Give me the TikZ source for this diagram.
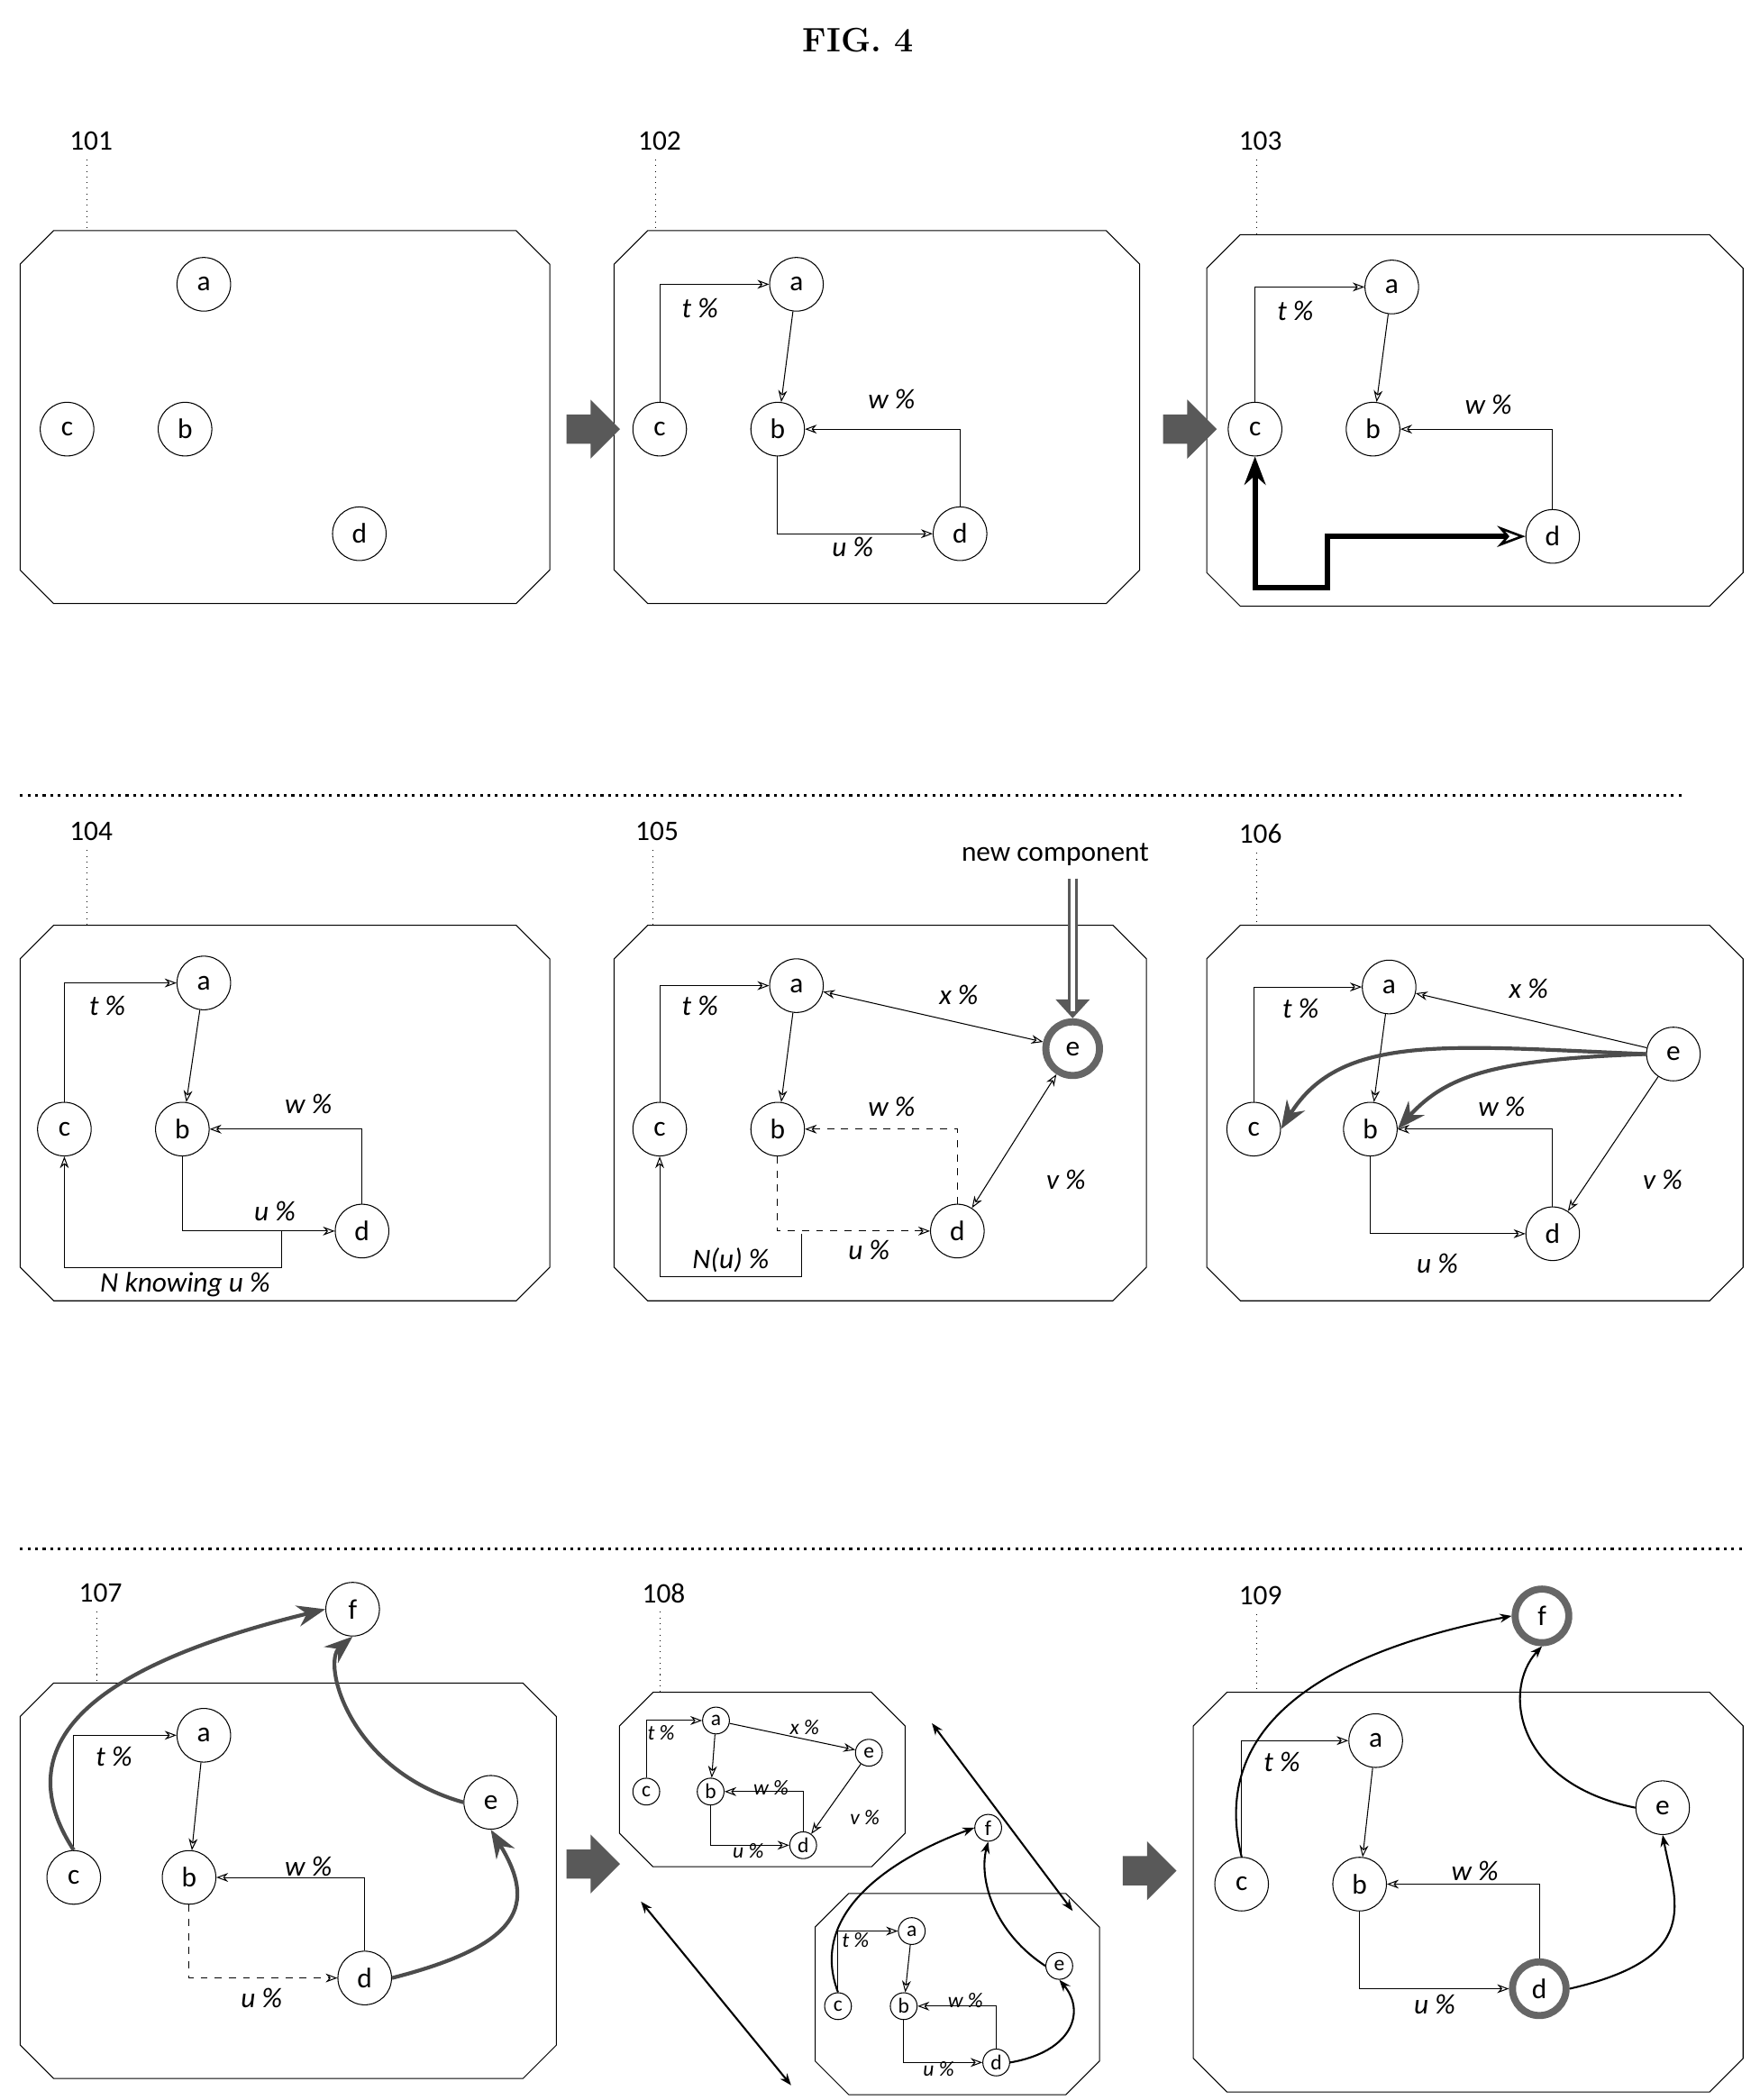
\documentclass[tikz,border=0pt]{standalone}
\usepackage{fontspec}
\setsansfont{Carlito}
\usetikzlibrary{arrows.meta,shapes.arrows,shapes.misc}
\begin{document}
\begin{tikzpicture}[x=0.02cm,y=-0.02cm,
 n/.style={circle,draw,thin,minimum size=40*0.02cm,inner sep=0,font=\sffamily\large},
 sn/.style={circle,draw,thin,minimum size=20*0.02cm,inner sep=0,font=\sffamily\small},
 ring/.style={n,line width=3pt,draw=gray!80!black},
 sring/.style={sn,line width=1.5pt},
 e/.style={thin,-{Stealth[length=5pt,open]}},
 de/.style={thin,{Stealth[length=5pt,open]}-{Stealth[length=5pt,open]}},
 th/.style={line width=1.6pt,draw=gray!60!black,-{Stealth[length=12pt,width=9pt]}},
 lb/.style={font=\sffamily\itshape\large},
 slb/.style={font=\sffamily\itshape\small},
 num/.style={font=\sffamily\large},
 big/.style={single arrow,fill=gray!70!black,minimum width=44*0.02cm,minimum height=40*0.02cm,single arrow head extend=0.12cm,inner sep=0.11cm,single arrow head indent=0pt},
 bx/.style={draw,thin}]
\useasboundingbox (0,0) rectangle (1312,1566);
\newcommand\pbox[4]{\draw[bx] (#1+25,#2)--(#3-25,#2)--(#3,#2+25)--(#3,#4-25)--(#3-25,#4)--(#1+25,#4)--(#1,#4-25)--(#1,#2+25)--cycle;}
\newcommand\plab[4]{\node[num] (#1) at (#2,#3) {#1}; \coordinate (#1t) at (#2-3,#3+14); \coordinate (#1b) at (#2-3,#4); \draw[dotted] (#1t)--(#1b);}
\node[font=\bfseries\Large] (title) at (640,30) {FIG. 4};
% Row 1
\pbox{15}{172}{410}{450}\plab{101}{68}{105}{172}
\node[n] (a1) at (152,212){a}; \node[n] (c1) at (50,320){c};
\node[n] (b1) at (138,320){b}; \node[n] (d1) at (268,398){d};
\pbox{458}{172}{850}{450}\plab{102}{492}{105}{172}
\node[n] (a2) at (594,212){a}; \node[n] (c2) at (492,320){c};
\node[n] (b2) at (580,320){b}; \node[n] (d2) at (716,398){d};
\draw[e] (c2.north)|-(a2.west); \node[lb] at (522,230){t \%};
\draw[e] (a2)--(b2); \draw[e] (d2.north)|-(b2.east); \node[lb] at (665,298){w \%};
\draw[e] (b2.south)|-(d2.west); \node[lb] at (636,408){u \%};
\pbox{900}{175}{1300}{452}\plab{103}{940}{105}{175}
\node[n] (a3) at (1038,214){a}; \node[n] (c3) at (936,320){c};
\node[n] (b3) at (1024,320){b}; \node[n] (d3) at (1158,400){d};
\draw[e] (c3.north)|-(a3.west); \node[lb] at (966,232){t \%};
\draw[e] (a3)--(b3); \draw[e] (d3.north)|-(b3.east); \node[lb] at (1110,302){w \%};
\coordinate (p1) at (990,438); \coordinate (p2) at (990,400);
\draw[line width=2.2pt,{Stealth[length=12pt,width=9pt]}-{Stealth[length=12pt,width=9pt,open,line width=1pt]}] (c3.south)|-(p1)--(p2)--(d3.west);
\node[big] (A1) at (437,320){}; \node[big] (A2) at (882,320){};
\coordinate (s1a) at (15,593); \coordinate (s1b) at (1255,593); \draw[line width=1.2pt,dotted] (s1a)--(s1b);
\coordinate (s2a) at (15,1155); \coordinate (s2b) at (1300,1155); \draw[line width=1.2pt,dotted] (s2a)--(s2b);
% Row 2
\pbox{15}{690}{410}{970}\plab{104}{68}{620}{690}
\node[n] (a4) at (152,733){a}; \node[n] (c4) at (48,842){c};
\node[n] (b4) at (136,842){b}; \node[n] (d4) at (270,918){d};
\draw[e] (c4.north)|-(a4.west); \node[lb] at (80,750){t \%};
\draw[e] (a4)--(b4); \draw[e] (d4.north)|-(b4.east); \node[lb] at (230,823){w \%};
\draw[e] (b4.south)|-(d4.west); \node[lb] at (205,903){u \%};
\coordinate (n1) at (210,918); \coordinate (n2) at (210,945);
\draw[e] (n1)--(n2)-|(c4.south); \node[lb] at (138,958){N knowing u \%};
\pbox{458}{690}{855}{970}\plab{105}{490}{620}{690}
\node[n] (a5) at (594,735){a}; \node[n] (c5) at (492,842){c};
\node[n] (b5) at (580,842){b}; \node[ring] (e5) at (800,782){e}; \node[n] (d5) at (714,918){d};
\draw[e] (c5.north)|-(a5.west); \node[lb] at (522,750){t \%};
\draw[e] (a5)--(b5); \draw[e,dashed] (d5.north)|-(b5.east); \node[lb] at (665,825){w \%};
\draw[e,dashed] (b5.south)|-(d5.west); \node[lb] at (648,932){u \%};
\draw[de] (a5)--(e5); \node[lb] at (715,742){x \%};
\draw[de] (e5)--(d5); \node[lb] at (795,880){v \%};
\coordinate (m1) at (598,920); \coordinate (m2) at (598,952);
\draw[e] (m1)--(m2)-|(c5.south); \node[lb] at (545,940){N(u) \%};
\node[font=\sffamily\large] (nc) at (787,637){new component};
\coordinate (nct) at (800,655);
\draw[line width=4pt,draw=gray!70!black,-{Triangle[length=8pt,width=14pt]}] (nct)--(e5.north);
\draw[line width=2pt,white,shorten >=3pt] (nct)--(e5.north);
\pbox{900}{690}{1300}{970}\plab{106}{940}{622}{690}
\node[n] (a6) at (1036,736){a}; \node[n] (e6) at (1248,786){e}; \node[n] (c6) at (935,842){c};
\node[n] (b6) at (1022,842){b}; \node[n] (d6) at (1158,920){d};
\draw[e] (c6.north)|-(a6.west); \node[lb] at (970,752){t \%};
\draw[e] (a6)--(b6); \draw[e] (d6.north)|-(b6.east); \node[lb] at (1120,825){w \%};
\draw[e] (b6.south)|-(d6.west); \node[lb] at (1072,942){u \%};
\draw[e] (e6)--(a6); \node[lb] at (1140,737){x \%};
\draw[e] (e6)--(d6); \node[lb] at (1240,880){v \%};
\draw[th] (e6.west) .. controls (1080,780) and (1000,770) .. (c6.east);
\draw[th] (e6.west) .. controls (1120,790) and (1080,800) .. (b6.east);
% Row 3
\pbox{15}{1255}{415}{1550}\plab{107}{75}{1188}{1255}
\node[n] (f7) at (263,1200){f}; \node[n] (a7) at (152,1294){a}; \node[n] (e7) at (366,1344){e};
\node[n] (c7) at (55,1400){c}; \node[n] (b7) at (141,1400){b}; \node[n] (d7) at (272,1475){d};
\draw[e] (c7.north)|-(a7.west); \node[lb] at (85,1310){t \%};
\draw[e] (a7)--(b7); \draw[e] (d7.north)|-(b7.east); \node[lb] at (230,1392){w \%};
\draw[e,dashed] (b7.south)|-(d7.west); \node[lb] at (195,1490){u \%};
\draw[th] (c7.north) .. controls (-10,1280) and (120,1230) .. (f7.west);
\draw[th] (e7.west) .. controls (260,1320) and (240,1240) .. (f7.south);
\draw[th] (d7.east) .. controls (390,1450) and (400,1420) .. (e7.south);
\node[big] (A3) at (437,1390){}; \node[big] (A4) at (852,1395){};
% 108
\pbox{462}{1262}{675}{1392}\plab{108}{495}{1188}{1262}
\node[sn] (a8) at (534,1283){a}; \node[sn] (e8) at (648,1307){e}; \node[sn] (c8) at (482,1336){c};
\node[sn] (b8) at (530,1336){b}; \node[sn] (d8) at (599,1376){d};
\draw[e] (c8.north)|-(a8.west); \node[slb] at (493,1292){t \%};
\draw[e] (a8)--(b8); \draw[e] (d8.north)|-(b8.east); \node[slb] at (575,1333){w \%};
\draw[e] (b8.south)|-(d8.west); \node[slb] at (558,1380){u \%};
\draw[e] (a8)--(e8); \node[slb] at (600,1288){x \%}; \draw[e] (e8)--(d8); \node[slb] at (645,1355){v \%};
\pbox{608}{1412}{820}{1562}
\node[sn] (f9) at (737,1363){f}; \node[sn] (a9) at (680,1440){a}; \node[sn] (e9) at (790,1466){e};
\node[sn] (c9) at (625,1496){c}; \node[sn] (b9) at (674,1496){b}; \node[sn] (d9) at (743,1538){d};
\draw[e] (c9.north)|-(a9.west); \node[slb] at (638,1447){t \%};
\draw[e] (a9)--(b9); \draw[e] (d9.north)|-(b9.east); \node[slb] at (720,1492){w \%};
\draw[e] (b9.south)|-(d9.west); \node[slb] at (700,1543){u \%};
\draw[e,thick] (c9.north) .. controls (600,1420) and (680,1380) .. (f9.west);
\draw[e,thick] (e9.west) .. controls (740,1440) and (730,1400) .. (f9.south);
\draw[e,thick] (d9.east) .. controls (800,1530) and (810,1500) .. (e9.south);
\coordinate (q1) at (695,1285); \coordinate (q2) at (800,1425);
\coordinate (q3) at (478,1418); \coordinate (q4) at (590,1555);
\draw[de,thick] (q1)--(q2); \draw[de,thick] (q3)--(q4);
% 109
\pbox{890}{1262}{1300}{1560}\plab{109}{940}{1190}{1262}
\node[ring] (f10) at (1150,1205){f}; \node[n] (a10) at (1026,1298){a}; \node[n] (e10) at (1240,1348){e};
\node[n] (c10) at (926,1405){c}; \node[n] (b10) at (1014,1405){b}; \node[ring] (d10) at (1148,1483){d};
\draw[e] (c10.north)|-(a10.west); \node[lb] at (956,1314){t \%};
\draw[e] (a10)--(b10); \draw[e] (d10.north)|-(b10.east); \node[lb] at (1100,1395){w \%};
\draw[e] (b10.south)|-(d10.west); \node[lb] at (1070,1495){u \%};
\draw[e,thick] (c10.north) .. controls (900,1280) and (1000,1230) .. (f10.west);
\draw[e,thick] (e10.west) .. controls (1130,1330) and (1120,1260) .. (f10.south);
\draw[e,thick] (d10.east) .. controls (1270,1460) and (1250,1420) .. (e10.south);
\end{tikzpicture}
\end{document}
